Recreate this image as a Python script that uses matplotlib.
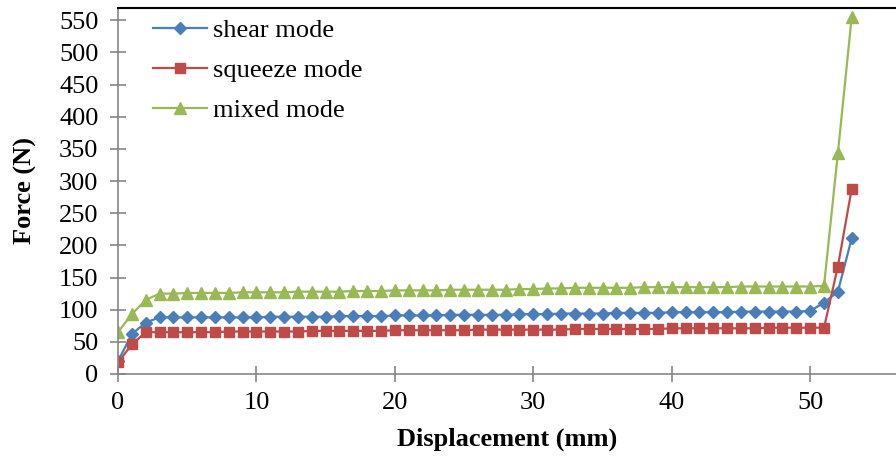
import matplotlib.pyplot as plt
import numpy as np

plt.rcParams['font.family'] = ['Liberation Serif', 'DejaVu Serif']

# displacement (mm)
displacement = list(range(54))

shear = [20, 62, 80, 88, 88, 88, 88, 88, 88, 88,
         88, 89, 89, 89, 89, 89, 90, 90, 90, 90,
         91, 91, 91, 91, 92, 92, 92, 92, 92, 93,
         93, 93, 94, 94, 94, 94, 95, 95, 95, 95,
         96, 96, 96, 96, 96, 97, 97, 97, 97, 97,
         98, 111, 128, 211]

squeeze = [18, 46, 65, 65, 65, 65, 65, 65, 66, 66,
           66, 66, 66, 66, 67, 67, 67, 67, 67, 67,
           68, 68, 68, 68, 68, 68, 69, 69, 69, 69,
           69, 69, 69, 70, 70, 70, 70, 70, 70, 70,
           71, 71, 71, 71, 71, 71, 71, 72, 72, 72,
           72, 72, 167, 288]

mixed = [65, 93, 115, 125, 125, 126, 126, 126, 126, 127,
         127, 127, 127, 128, 128, 128, 128, 129, 129, 129,
         130, 130, 130, 130, 131, 131, 131, 131, 131, 132,
         132, 133, 133, 134, 134, 134, 134, 134, 135, 135,
         135, 135, 135, 135, 135, 136, 136, 136, 136, 136,
         136, 137, 343, 555]

fig = plt.figure(figsize=(8.96, 4.59), dpi=100)
ax = fig.add_axes([118/896, 85/459, 1 - 118/896, 366/459])

ax.plot(displacement, shear, color='#4A7EBB', marker='D', markersize=6,
        linewidth=1.6, label='shear mode')
ax.plot(displacement, squeeze, color='#BE4B48', marker='s', markersize=6.5,
        linewidth=1.6, label='squeeze mode')
ax.plot(displacement, mixed, color='#98B954', marker='^', markersize=8,
        linewidth=1.6, label='mixed mode')

ax.set_xlim(0, 56.2)
ax.set_ylim(0, 569)
ax.set_xticks(np.arange(0, 51, 10))
ax.set_yticks(np.arange(0, 551, 50))

for s in ['left', 'bottom']:
    ax.spines[s].set_color('#868686')
    ax.spines[s].set_linewidth(1.2)
ax.spines['top'].set_color('black')
ax.spines['top'].set_linewidth(1.5)
ax.spines['right'].set_visible(False)

ax.tick_params(direction='inout', length=12, width=1.2, color='#868686',
               labelsize=19)
ax.tick_params(axis='y', pad=8)
ax.tick_params(axis='x', pad=7)

ax.set_xlabel('Displacement (mm)', fontsize=19, fontweight='bold', labelpad=10)
ax.set_ylabel('Force (N)', fontsize=19, fontweight='bold', labelpad=16)

ax.legend(loc='upper left', bbox_to_anchor=(0.014, 1.035), frameon=False,
          fontsize=19, handlelength=2.05, handletextpad=0.25, labelspacing=0.62)

plt.savefig('out.png', dpi=100)
